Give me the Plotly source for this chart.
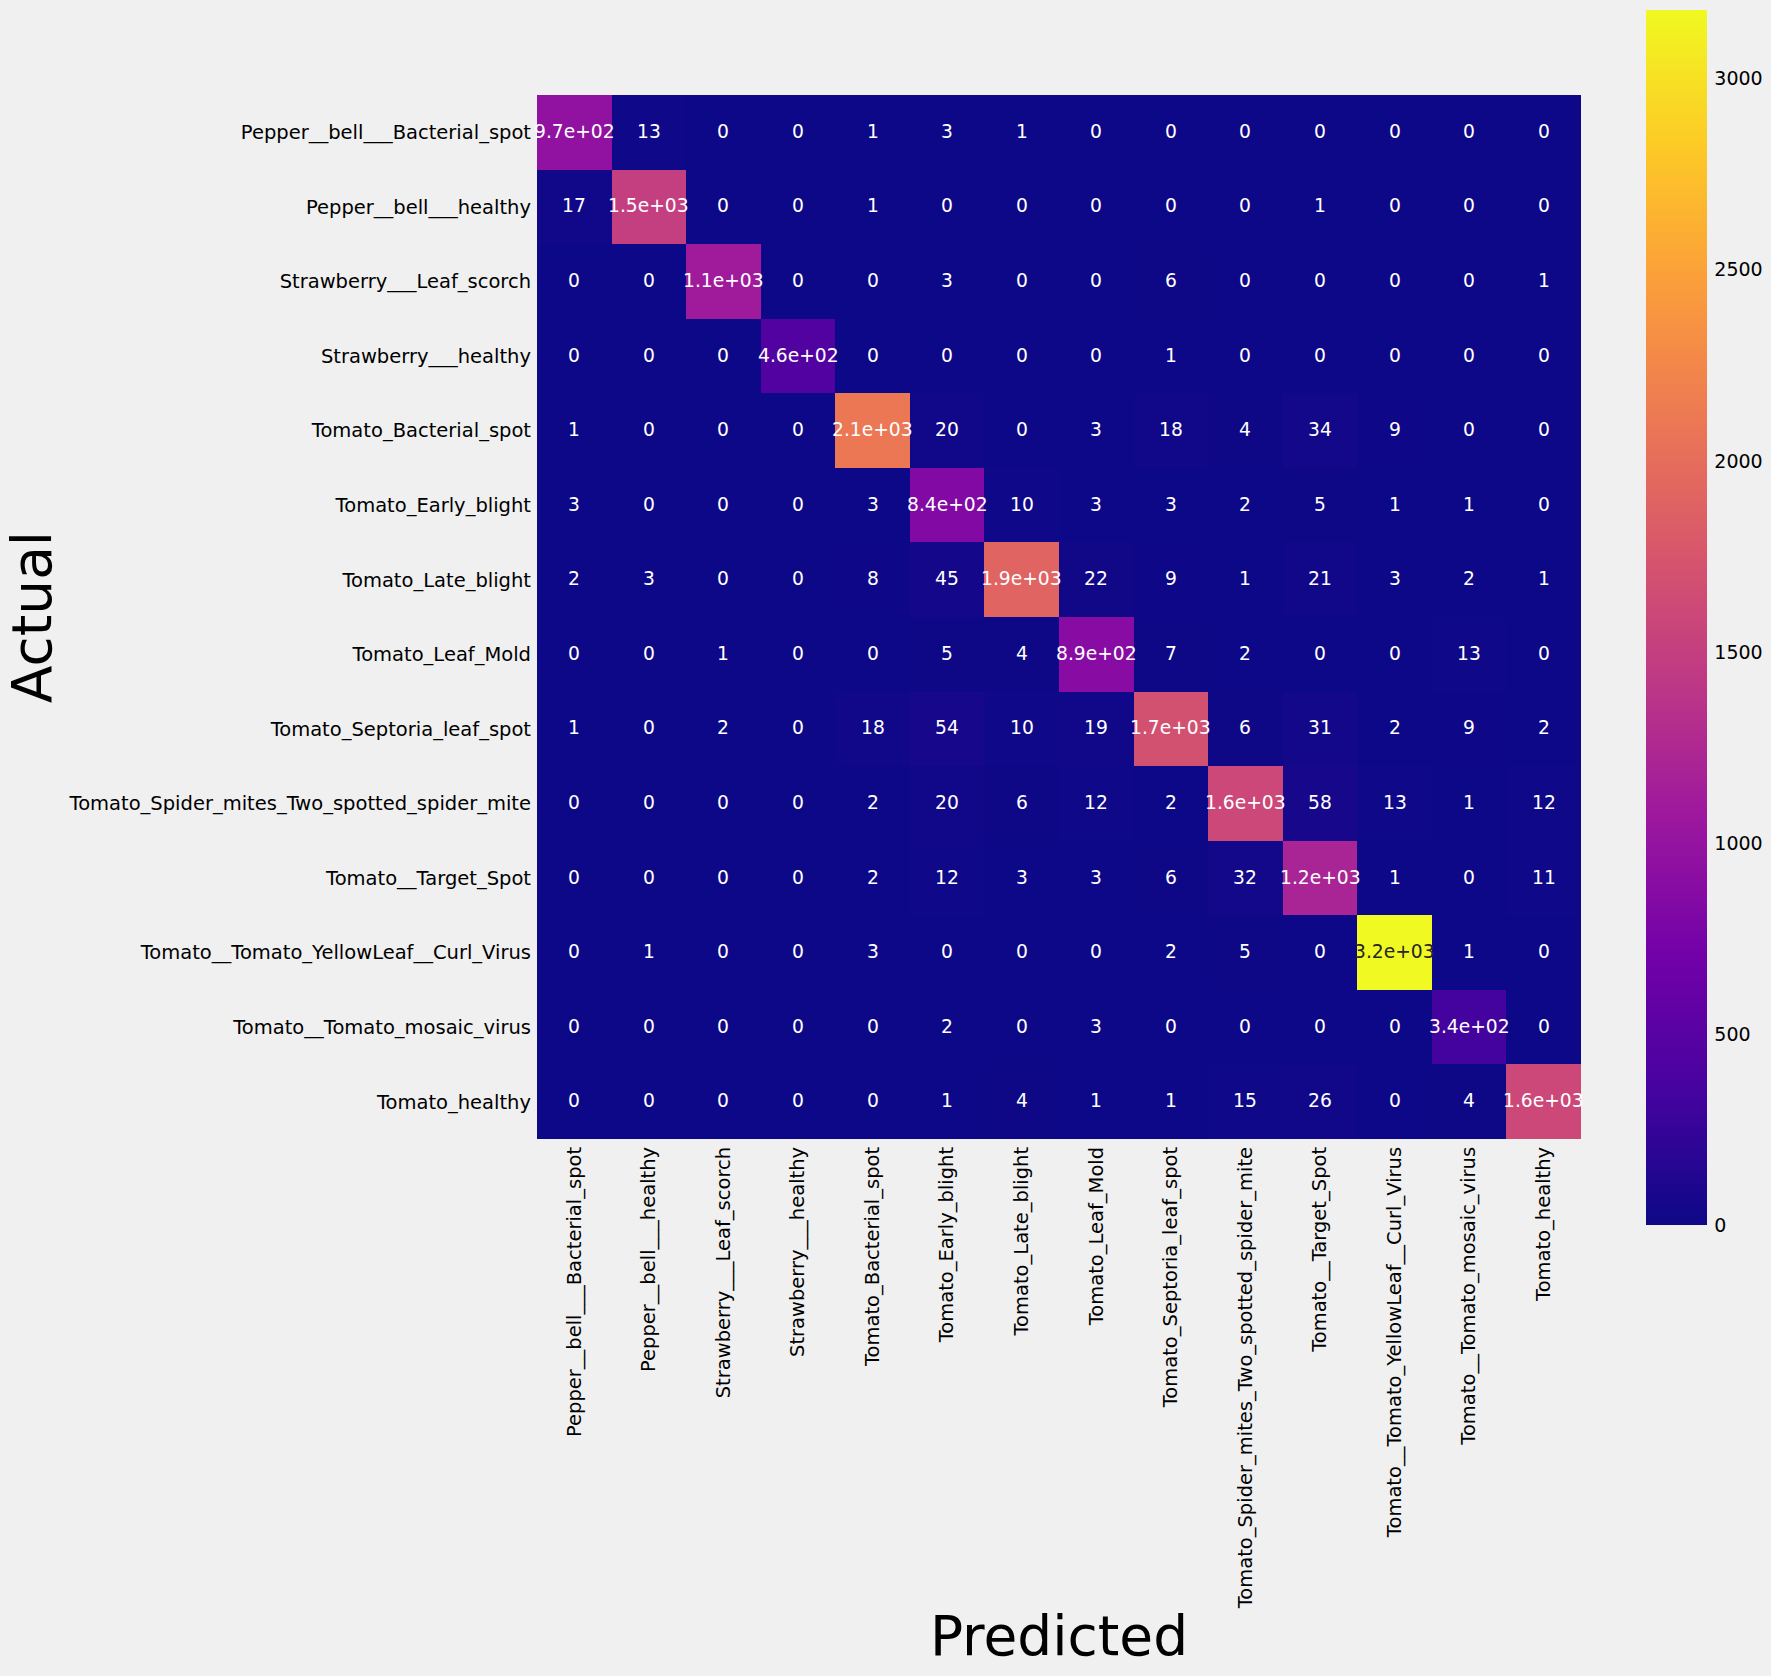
import plotly.graph_objects as go
from plotly.colors import sequential

classes = ["Pepper__bell___Bacterial_spot", "Pepper__bell___healthy", "Strawberry___Leaf_scorch",
           "Strawberry___healthy", "Tomato_Bacterial_spot", "Tomato_Early_blight", "Tomato_Late_blight",
           "Tomato_Leaf_Mold", "Tomato_Septoria_leaf_spot", "Tomato_Spider_mites_Two_spotted_spider_mite",
           "Tomato__Target_Spot", "Tomato__Tomato_YellowLeaf__Curl_Virus", "Tomato__Tomato_mosaic_virus",
           "Tomato_healthy"]

row_0 = [970, 13, 0, 0, 1, 3, 1, 0, 0, 0, 0, 0, 0, 0]
row_1 = [17, 1500, 0, 0, 1, 0, 0, 0, 0, 0, 1, 0, 0, 0]
row_2 = [0, 0, 1100, 0, 0, 3, 0, 0, 6, 0, 0, 0, 0, 1]
row_3 = [0, 0, 0, 460, 0, 0, 0, 0, 1, 0, 0, 0, 0, 0]
row_4 = [1, 0, 0, 0, 2100, 20, 0, 3, 18, 4, 34, 9, 0, 0]
row_5 = [3, 0, 0, 0, 3, 840, 10, 3, 3, 2, 5, 1, 1, 0]
row_6 = [2, 3, 0, 0, 8, 45, 1900, 22, 9, 1, 21, 3, 2, 1]
row_7 = [0, 0, 1, 0, 0, 5, 4, 890, 7, 2, 0, 0, 13, 0]
row_8 = [1, 0, 2, 0, 18, 54, 10, 19, 1700, 6, 31, 2, 9, 2]
row_9 = [0, 0, 0, 0, 2, 20, 6, 12, 2, 1600, 58, 13, 1, 12]
row_10 = [0, 0, 0, 0, 2, 12, 3, 3, 6, 32, 1200, 1, 0, 11]
row_11 = [0, 1, 0, 0, 3, 0, 0, 0, 2, 5, 0, 3180, 1, 0]
row_12 = [0, 0, 0, 0, 0, 2, 0, 3, 0, 0, 0, 0, 340, 0]
row_13 = [0, 0, 0, 0, 0, 1, 4, 1, 1, 15, 26, 0, 4, 1600]
matrix = [row_0, row_1, row_2, row_3, row_4, row_5, row_6, row_7, row_8, row_9, row_10, row_11, row_12, row_13]

W, H = 1771, 1676
FONT = "DejaVu Sans"
BG = "#f0f0f0"

fig = go.Figure(go.Heatmap(
    z=matrix, x=classes, y=classes,
    colorscale=sequential.Plasma, zmin=0, zmax=3180,
    xgap=0, ygap=0,
    colorbar=dict(
        xref="paper", yref="paper",
        x=1646 / W, xanchor="left", xpad=0,
        y=1 - 1225 / H, yanchor="bottom", ypad=0,
        thickness=61, thicknessmode="pixels",
        len=1215, lenmode="pixels",
        outlinewidth=0, borderwidth=0,
        tickmode="array", tickvals=[0, 500, 1000, 1500, 2000, 2500, 3000],
        ticks="outside", ticklen=4, tickcolor="rgba(0,0,0,0)",
        tickfont=dict(family=FONT, size=19, color="#000000"),
    ),
))

annotations = []
for i, r in enumerate(classes):
    for j, c in enumerate(classes):
        v = matrix[i][j]
        annotations.append(dict(
            x=c, y=r, xref="x", yref="y", text=f"{v:.2g}", showarrow=False, yshift=1,
            font=dict(family=FONT, size=18.7, color="#262626" if v > 2600 else "#ffffff"),
        ))

fig.update_layout(
    width=W, height=H,
    margin=dict(l=0, r=0, t=0, b=0, autoexpand=False),
    autosize=False,
    paper_bgcolor=BG, plot_bgcolor=BG,
    font=dict(family=FONT, color="#000000"),
    annotations=annotations,
    xaxis=dict(
        domain=[537 / W, 1581 / W], side="bottom", tickangle=-90, type="category",
        range=[-0.5, len(classes) - 0.5],
        tickfont=dict(family=FONT, size=19.5, color="#000000"),
        ticks="", showgrid=False, zeroline=False, showline=False, automargin=False,
        ticklabelstandoff=3,
        title=dict(text="Predicted", font=dict(family=FONT, size=55, color="#000000"), standoff=8),
    ),
    yaxis=dict(
        domain=[1 - 1139 / H, 1 - 95 / H], type="category",
        range=[len(classes) - 0.5, -0.5],
        tickfont=dict(family=FONT, size=19.5, color="#000000"),
        ticks="", showgrid=False, zeroline=False, showline=False, automargin=False,
        ticklabelstandoff=5,
        title=dict(text="Actual", font=dict(family=FONT, size=55, color="#000000"), standoff=2),
    ),
)

fig.write_html("out.html", post_script="document.body.style.margin='0';",
               config=dict(displayModeBar=False))
